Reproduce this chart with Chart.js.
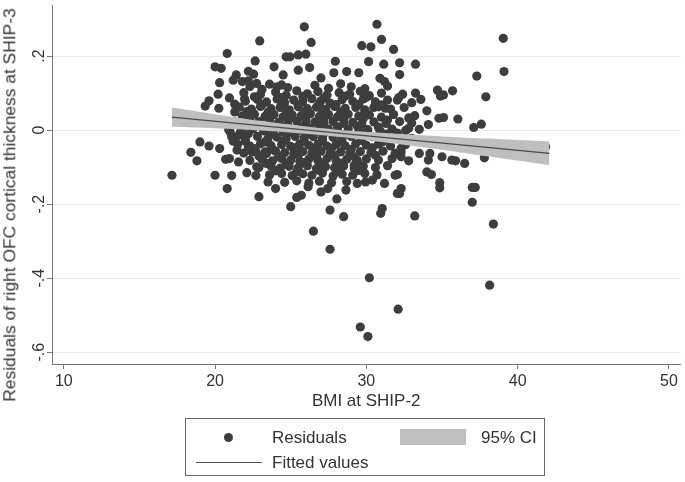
<!DOCTYPE html>
<html><head><meta charset="utf-8">
<script src="https://cdn.jsdelivr.net/npm/chart.js@4.4.1/dist/chart.umd.min.js"></script>
<style>
html,body{margin:0;padding:0;background:#fff;}
#wrap{position:relative;width:685px;height:482px;font-family:"Liberation Sans",Arial,sans-serif;color:#333;}
#c{position:absolute;left:0;top:0;}
.t{position:absolute;white-space:nowrap;font-size:17px;line-height:1;}
</style></head><body>
<div id="wrap">
<canvas id="c" width="685" height="482"></canvas>
<div class="t" id="ytitle" style="left:10px;top:205px;font-size:17.4px;transform:translate(-50%,-50%) rotate(-90deg);">Residuals of right OFC cortical thickness at SHIP-3</div>
<div id="legend" style="position:absolute;left:185px;top:418px;width:360px;height:58px;box-sizing:border-box;border:1px solid #666;"></div>
<div style="position:absolute;left:223.5px;top:432.5px;width:9px;height:9px;border-radius:50%;background:#3d3d3d;"></div>
<div class="t" style="left:272px;top:437px;transform:translateY(-50%);">Residuals</div>
<div style="position:absolute;left:400px;top:429px;width:66px;height:16px;background:#bfbfbf;"></div>
<div class="t" style="left:481px;top:437px;transform:translateY(-50%);">95% CI</div>
<div style="position:absolute;left:196px;top:461.5px;width:66px;height:1.3px;background:#555;"></div>
<div class="t" style="left:272px;top:462px;transform:translateY(-50%);">Fitted values</div>
</div>
<script>
// ---- data ----
const xTicks = [10, 20, 30, 40, 50];
const xTickLabels = ['10', '20', '30', '40', '50'];
const yTicks = [-0.6, -0.4, -0.2, 0, 0.2];
const yTickLabels = ['-.6', '-.4', '-.2', '0', '.2'];

// sparse / outlying residuals [BMI, residual]
const residualsOuter = [
[39.05,0.248],[39.1,0.158],[37.3,0.146],[37.9,0.09],[32.2,0.182],[33.25,0.178],[32.2,0.15],[33.25,0.10],[33.6,0.083],
[34.7,0.108],[34.9,0.092],[35.1,0.095],[35.7,0.106],[34.0,0.052],[32.8,0.033],[34.8,0.032],[35.1,0.034],[36.05,0.03],
[37.1,0.007],[37.6,0.016],[32.8,0.005],[41.85,-0.045],[37.8,-0.075],[33.5,-0.063],[34.2,-0.063],[34.1,-0.081],[35.0,-0.072],
[35.65,-0.081],[35.9,-0.083],[36.5,-0.09],[32.3,-0.059],[32.3,-0.072],[34.0,-0.113],[34.3,-0.12],[34.85,-0.142],[34.85,-0.156],
[37.0,-0.155],[37.2,-0.155],[37.0,-0.195],[32.3,-0.158],[32.2,-0.171],[32.05,-0.12],[33.2,-0.232],[38.4,-0.254],[38.15,-0.419],
[26.5,-0.273],[27.6,-0.322],[30.2,-0.399],[32.1,-0.484],[29.6,-0.532],[30.1,-0.558],
[17.15,-0.122],[18.4,-0.06],[18.8,-0.083],[19.0,-0.032],[19.6,-0.043],[20.3,-0.05],[20.0,-0.122],[20.8,-0.158],[21.1,-0.123],
[20.7,-0.079],[20.95,-0.077],[21.55,-0.086],[21.45,-0.054],[21.2,-0.03],[22.1,-0.115],[22.7,-0.123],[22.9,-0.18],[22.2,-0.045],
[22.45,-0.059],[21.0,-0.005],[21.55,-0.014],[24.0,-0.158],[23.5,-0.14],[23.1,-0.077],[22.75,-0.099],[23.3,-0.059],
[25.0,-0.207],[25.4,-0.182],[25.7,-0.176],[27.6,-0.216],[28.05,-0.186],[28.5,-0.234],[27.0,-0.167],[27.45,-0.158],[28.65,-0.162],
[26.15,-0.153],[31.05,-0.212],[30.95,-0.225],[31.2,-0.144],[29.95,-0.14],[30.4,-0.135],[32.05,-0.171],[31.9,-0.122],[29.2,-0.095],
[22.95,0.241],[20.8,0.207],[20.0,0.171],[20.4,0.167],[22.65,0.187],[22.2,0.159],[22.55,0.151],[23.9,0.171],[21.4,0.149],
[21.2,0.135],[20.3,0.128],[21.8,0.131],[22.2,0.133],[20.2,0.097],[20.95,0.087],[21.95,0.085],[19.6,0.079],[19.35,0.065],
[20.25,0.059],[21.3,0.049],[24.5,0.149],[23.1,0.11],[22.75,0.126],[24.1,0.117],[24.4,0.122],[24.7,0.198],
[25.9,0.279],[26.35,0.237],[30.7,0.286],[31.0,0.245],[29.7,0.228],[30.3,0.225],[31.8,0.218],[24.95,0.198],[25.5,0.203],
[26.0,0.205],[27.95,0.186],[30.15,0.185],[31.15,0.178],[25.5,0.162],[26.25,0.169],[27.85,0.155],[28.7,0.158],[29.5,0.155],
[27.0,0.141],[30.9,0.14],[31.2,0.131],[32.05,0.081],[32.15,0.088],[30.5,0.061],[31.25,0.059],[32.05,-0.008],[32.3,-0.049]
];

// dense central cloud of residuals [BMI, residual]
const residualsCore = [
[22.3,0.118],[23.6,0.124],[24.8,0.115],[26.6,0.121],[27.5,0.113],[28.3,0.125],[29.0,0.117],[29.9,0.112],[31.4,0.119],
[21.9,0.101],[23.0,0.096],[24.0,0.103],[24.7,0.094],[25.4,0.106],[26.1,0.098],[26.8,0.104],[27.4,0.095],[28.2,0.101],[28.9,0.097],[29.6,0.105],[30.2,0.093],[31.0,0.1],[32.4,0.097],
[22.0,0.078],[22.8,0.083],[23.4,0.076],[24.1,0.084],[24.6,0.074],[25.2,0.081],[25.8,0.077],[26.4,0.085],[27.0,0.079],[27.6,0.073],[28.4,0.082],[29.1,0.078],[29.8,0.084],[30.6,0.076],[31.4,0.081],[33.0,0.074],
[21.6,0.062],[22.4,0.057],[23.0,0.064],[23.7,0.058],[24.3,0.061],[24.9,0.055],[25.5,0.063],[26.1,0.058],[26.7,0.062],[27.3,0.056],[27.9,0.064],[28.6,0.059],[29.3,0.061],[29.9,0.055],[30.8,0.063],[31.6,0.057],[32.5,0.061],
[21.8,0.038],[22.6,0.043],[23.3,0.037],[23.9,0.042],[24.5,0.036],[25.1,0.041],[25.7,0.039],[26.3,0.044],[26.9,0.037],[27.5,0.042],[28.1,0.036],[28.8,0.043],[29.5,0.038],[30.2,0.041],[31.0,0.035],[31.8,0.042],[33.2,0.039],
[21.3,0.022],[22.2,0.017],[22.9,0.023],[23.6,0.018],[24.2,0.021],[24.8,0.016],[25.4,0.024],[26.0,0.019],[26.6,0.022],[27.2,0.017],[27.8,0.023],[28.5,0.018],[29.1,0.021],[29.7,0.016],[30.5,0.022],[31.3,0.018],[32.2,0.023],[33.0,0.019],[34.1,0.015],
[20.9,0.001],[21.7,-0.003],[22.5,0.003],[23.2,-0.002],[23.9,0.002],[24.5,-0.004],[25.1,0.003],[25.7,-0.001],[26.3,0.004],[26.9,-0.003],[27.5,0.002],[28.1,-0.002],[28.8,0.003],[29.5,-0.004],[30.1,0.001],[30.9,-0.002],[31.7,0.003],[32.6,-0.001],[33.5,0.002],
[21.1,-0.018],[22.0,-0.023],[22.8,-0.017],[23.5,-0.022],[24.1,-0.019],[24.7,-0.024],[25.3,-0.017],[25.9,-0.021],[26.5,-0.018],[27.1,-0.023],[27.8,-0.019],[28.4,-0.022],[29.0,-0.017],[29.7,-0.021],[30.4,-0.018],[31.2,-0.023],[32.0,-0.019],[33.0,-0.022],
[21.5,-0.038],[22.3,-0.043],[23.0,-0.037],[23.7,-0.042],[24.4,-0.039],[25.0,-0.044],[25.6,-0.037],[26.2,-0.041],[26.8,-0.038],[27.4,-0.043],[28.0,-0.039],[28.6,-0.042],[29.3,-0.037],[30.0,-0.041],[30.8,-0.038],[31.6,-0.043],[32.6,-0.039],
[21.9,-0.062],[22.7,-0.058],[23.4,-0.063],[24.0,-0.057],[24.6,-0.061],[25.2,-0.064],[25.8,-0.058],[26.4,-0.062],[27.0,-0.057],[27.6,-0.063],[28.3,-0.059],[28.9,-0.062],[29.6,-0.058],[30.3,-0.061],[31.1,-0.057],[31.9,-0.063],
[22.3,-0.082],[23.1,-0.078],[23.8,-0.083],[24.4,-0.077],[25.0,-0.081],[25.6,-0.084],[26.2,-0.078],[26.8,-0.082],[27.4,-0.077],[28.0,-0.083],[28.7,-0.079],[29.4,-0.082],[30.0,-0.078],[30.8,-0.081],[31.7,-0.077],[32.8,-0.083],
[22.9,-0.101],[23.7,-0.097],[24.3,-0.103],[24.9,-0.098],[25.5,-0.102],[26.1,-0.096],[26.7,-0.104],[27.3,-0.099],[27.9,-0.102],[28.5,-0.097],[29.2,-0.103],[29.8,-0.098],[30.6,-0.101],[31.4,-0.096],
[23.6,-0.121],[24.4,-0.117],[25.1,-0.123],[25.8,-0.118],[26.4,-0.122],[27.1,-0.116],[27.8,-0.124],[28.4,-0.119],[29.1,-0.122],[29.9,-0.117],[30.7,-0.121],
[24.6,-0.141],[25.4,-0.137],[26.2,-0.143],[26.9,-0.138],[27.7,-0.142],[28.7,-0.139],[29.4,-0.144]
];

// extra residuals filling the gaps of the central cloud [BMI, residual]
const residualsFill = [
[22.6,0.09],[24.4,0.088],[25.8,0.091],[27.2,0.087],[28.6,0.092],[30.0,0.089],
[21.3,0.07],[23.1,0.068],[24.4,0.071],[25.5,0.067],[26.9,0.072],[28.0,0.069],[29.5,0.07],[31.0,0.068],
[22.1,0.05],[23.5,0.048],[24.7,0.052],[25.9,0.047],[27.1,0.051],[28.3,0.049],[29.9,0.052],
[22.3,0.03],[23.6,0.028],[24.9,0.032],[26.0,0.027],[27.2,0.031],[28.5,0.029],[29.8,0.031],[31.4,0.027],
[21.8,0.01],[23.3,0.008],[24.5,0.011],[25.7,0.007],[26.9,0.012],[28.1,0.009],[29.4,0.011],[30.8,0.008],
[22.2,-0.01],[23.6,-0.012],[24.8,-0.008],[26.0,-0.011],[27.2,-0.009],[28.5,-0.012],[29.8,-0.008],[31.3,-0.011],
[22.0,-0.03],[23.3,-0.032],[24.6,-0.028],[25.9,-0.031],[27.1,-0.029],[28.3,-0.032],[29.7,-0.028],[31.1,-0.031],
[22.6,-0.05],[23.8,-0.052],[25.3,-0.048],[26.5,-0.051],[27.7,-0.049],[29.0,-0.052],[30.4,-0.048],
[22.9,-0.07],[24.2,-0.072],[25.5,-0.068],[26.7,-0.071],[27.9,-0.069],[29.2,-0.072],[30.6,-0.068],
[23.4,-0.09],[24.7,-0.092],[25.9,-0.088],[27.1,-0.091],[28.3,-0.089],[29.5,-0.092],
[24.0,-0.11],[25.4,-0.112],[26.8,-0.108],[28.1,-0.111],[29.5,-0.109]
];

// fitted line and 95% CI band
const fitBmi = [17.15, 42.1];
const fitValues = [0.035, -0.063];
const ciBmi = [17.15, 20, 23, 26, 29, 32, 35, 38, 42.1];
const ciUpper = [0.061, 0.043, 0.025, 0.010, -0.002, -0.010, -0.017, -0.023, -0.031];
const ciLower = [0.009, 0.005, -0.001, -0.010, -0.022, -0.037, -0.053, -0.071, -0.095];

const FONT = '"Liberation Sans", Arial, sans-serif';
const toXY = arr => arr.map(p => ({x: p[0], y: p[1]}));
const pair = (xs, ys) => xs.map((x, i) => ({x: x, y: ys[i]}));

const yLabelPlugin = {
  id: 'yLabels',
  afterDraw(chart) {
    const s = chart.scales.y, ctx = chart.ctx;
    ctx.save();
    ctx.fillStyle = '#333';
    ctx.font = '16px ' + FONT;
    ctx.textAlign = 'center';
    ctx.textBaseline = 'middle';
    yTicks.forEach((v, i) => {
      ctx.save();
      ctx.translate(40, s.getPixelForValue(v));
      ctx.rotate(-Math.PI / 2);
      ctx.fillText(yTickLabels[i], 0, 0);
      ctx.restore();
    });
    ctx.restore();
  }
};

new Chart(document.getElementById('c'), {
  type: 'scatter',
  data: {
    datasets: [
      {label: 'Residuals', data: toXY(residualsOuter.concat(residualsCore, residualsFill)), backgroundColor: '#3d3d3d', borderWidth: 0, pointRadius: 4.6, pointHoverRadius: 4.6, order: 3},
      {type: 'line', label: '95% CI', data: pair(ciBmi, ciUpper), borderWidth: 0, pointRadius: 0, fill: '+1', backgroundColor: '#bfbfbf', tension: 0.3, order: 1},
      {type: 'line', label: 'ci low', data: pair(ciBmi, ciLower), borderWidth: 0, pointRadius: 0, fill: false, tension: 0.3, order: 2},
      {type: 'line', label: 'Fitted values', data: pair(fitBmi, fitValues), borderColor: '#4a4a4a', borderWidth: 1.3, pointRadius: 0, fill: false, order: 0}
    ]
  },
  options: {
    responsive: false,
    animation: false,
    devicePixelRatio: 1,
    layout: {padding: {top: 5, right: 3, left: 0, bottom: 0}},
    plugins: {legend: {display: false}, tooltip: {enabled: false}, filler: {drawTime: 'beforeDatasetDraw'}},
    scales: {
      x: {
        type: 'linear', min: 9.22, max: 50.76,
        afterBuildTicks: s => { s.ticks = xTicks.map(v => ({value: v})); },
        afterFit: s => { s.height = 118; },
        grid: {display: true, drawOnChartArea: false, drawTicks: true, tickLength: 5, tickColor: '#777', color: '#777'},
        border: {display: true, color: '#777', width: 1},
        ticks: {color: '#333', font: {size: 16, family: FONT}, padding: 3, maxRotation: 0, minRotation: 0,
                callback: (v) => xTickLabels[xTicks.indexOf(v)]},
        title: {display: true, text: 'BMI at SHIP-2', color: '#333', font: {size: 17, family: FONT}, padding: {top: 0, bottom: 70}}
      },
      y: {
        type: 'linear', min: -0.632, max: 0.338,
        afterBuildTicks: s => { s.ticks = yTicks.map(v => ({value: v})); },
        afterFit: s => { s.width = 52; },
        grid: {color: '#ebebeb', lineWidth: 1, drawTicks: true, tickLength: 5, tickColor: '#777'},
        border: {display: true, color: '#777', width: 1},
        ticks: {display: false}
      }
    }
  },
  plugins: [yLabelPlugin]
});
</script>
</body></html>
